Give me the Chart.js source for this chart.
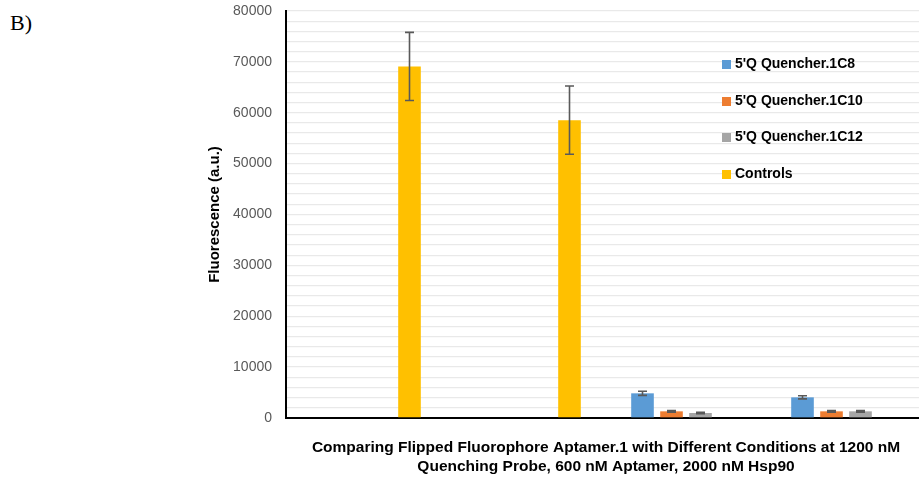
<!DOCTYPE html>
<html>
<head>
<meta charset="utf-8">
<script src="https://cdn.jsdelivr.net/npm/chart.js@4.4.1/dist/chart.umd.min.js"></script>
<style>
  html, body { margin: 0; padding: 0; overflow: hidden; background: #fff; }
  #wrap { position: relative; width: 919px; height: 477px; overflow: hidden; }
  #box { position: absolute; left: 0; top: 0; width: 930px; height: 477px; }
  #tag { position: absolute; left: 10px; top: 10px; font-family: "Liberation Serif", serif; font-size: 22px; color: #000; }
  #legend { position: absolute; left: 722px; top: 55px; font-family: "Liberation Sans", Arial, sans-serif; font-weight: bold; font-size: 14px; color: #000; }
  .item { height: 36.7px; display: flex; align-items: flex-start; }
  .sw { width: 9px; height: 9px; margin-top: 5px; margin-right: 4px; }
</style>
</head>
<body>
<div id="wrap">
  <div id="tag">B)</div>
  <div id="box"><canvas id="chart"></canvas></div>
  <div id="legend"></div>
</div>
<script>
// four groups along the x axis (no printed category labels)
let groups = ['', '', '', ''];

let seriesNames = ["5'Q Quencher.1C8", "5'Q Quencher.1C10", "5'Q Quencher.1C12", 'Controls'];
let seriesColors = ['#5B9BD5', '#ED7D31', '#A5A5A5', '#FFC000'];

let q1c8 = [null, null, 4850, 4060];
let q1c10 = [null, null, 1310, 1310];
let q1c12 = [null, null, 980, 1310];
let controls = [69100, 58550, null, null];

let q1c8Err = [0, 0, 400, 300];
let q1c10Err = [0, 0, 150, 150];
let q1c12Err = [0, 0, 150, 150];
let controlsErr = [6700, 6700, 0, 0];

let yTitle = 'Fluorescence (a.u.)';
let xTitle = ['Comparing Flipped Fluorophore Aptamer.1 with Different Conditions at 1200 nM',
              'Quenching Probe, 600 nM Aptamer, 2000 nM Hsp90'];

let values = [q1c8, q1c10, q1c12, controls];
let errors = [q1c8Err, q1c10Err, q1c12Err, controlsErr];

// html legend
let legend = document.getElementById('legend');
seriesNames.forEach(function(name, i) {
    let row = document.createElement('div');
    row.className = 'item';
    let sw = document.createElement('span');
    sw.className = 'sw';
    sw.style.background = seriesColors[i];
    let txt = document.createElement('span');
    txt.textContent = name;
    row.appendChild(sw);
    row.appendChild(txt);
    legend.appendChild(row);
});

let errorBars = {
    id: 'errorBars',
    afterDatasetsDraw: function(chart) {
        let ctx = chart.ctx;
        let y = chart.scales.y;
        ctx.save();
        ctx.strokeStyle = '#595959';
        ctx.lineWidth = 1.6;
        chart.data.datasets.forEach(function(ds, i) {
            let meta = chart.getDatasetMeta(i);
            meta.data.forEach(function(bar, j) {
                let v = ds.data[j];
                if (v === null) return;
                let e = errors[i][j];
                let top = y.getPixelForValue(v + e);
                let bot = y.getPixelForValue(v - e);
                ctx.beginPath();
                ctx.moveTo(bar.x, top);
                ctx.lineTo(bar.x, bot);
                ctx.moveTo(bar.x - 4.5, top);
                ctx.lineTo(bar.x + 4.5, top);
                ctx.moveTo(bar.x - 4.5, bot);
                ctx.lineTo(bar.x + 4.5, bot);
                ctx.stroke();
            });
        });
        ctx.restore();
    }
};

let ctx = document.getElementById('chart').getContext('2d');
new Chart(ctx, {
    type: 'bar',
    data: {
        labels: groups,
        datasets: values.map(function(arr, i) {
            return {
                label: seriesNames[i],
                data: arr,
                backgroundColor: seriesColors[i],
                borderWidth: 0,
                categoryPercentage: 0.725,
                barPercentage: 0.78
            };
        })
    },
    options: {
        responsive: true,
        maintainAspectRatio: false,
        animation: false,
        layout: { padding: { left: 205, top: 11, right: 4, bottom: 0 } },
        plugins: {
            legend: { display: false },
            tooltip: { enabled: false }
        },
        scales: {
            x: {
                grid: { display: false, drawTicks: false },
                border: { color: '#000', width: 2 },
                ticks: { display: false },
                title: {
                    display: true,
                    text: xTitle,
                    color: '#000',
                    font: { family: 'Liberation Sans', size: 15.5, weight: 'bold', lineHeight: '19px' },
                    padding: { top: 0, bottom: 1 }
                },
                afterFit: function(scale) { scale.height = 59; }
            },
            y: {
                min: 0,
                max: 80000,
                grid: { color: '#e9e9e9', lineWidth: 1.3, drawTicks: false },
                border: { color: '#000', width: 2 },
                ticks: {
                    stepSize: 2000,
                    autoSkip: false,
                    padding: 14,
                    color: '#595959',
                    font: { family: 'Liberation Sans', size: 14 },
                    callback: function(v) { return v % 10000 === 0 ? String(v) : ''; }
                },
                title: {
                    display: true,
                    text: yTitle,
                    color: '#000',
                    font: { family: 'Liberation Sans', size: 15, weight: 'bold' },
                    padding: { top: 1, bottom: 0 }
                },
                afterFit: function(scale) {
                    scale.width = 81;
                    scale.paddingTop = 0;
                    scale.paddingBottom = 0;
                }
            }
        }
    },
    plugins: [errorBars]
});
</script>
</body>
</html>
